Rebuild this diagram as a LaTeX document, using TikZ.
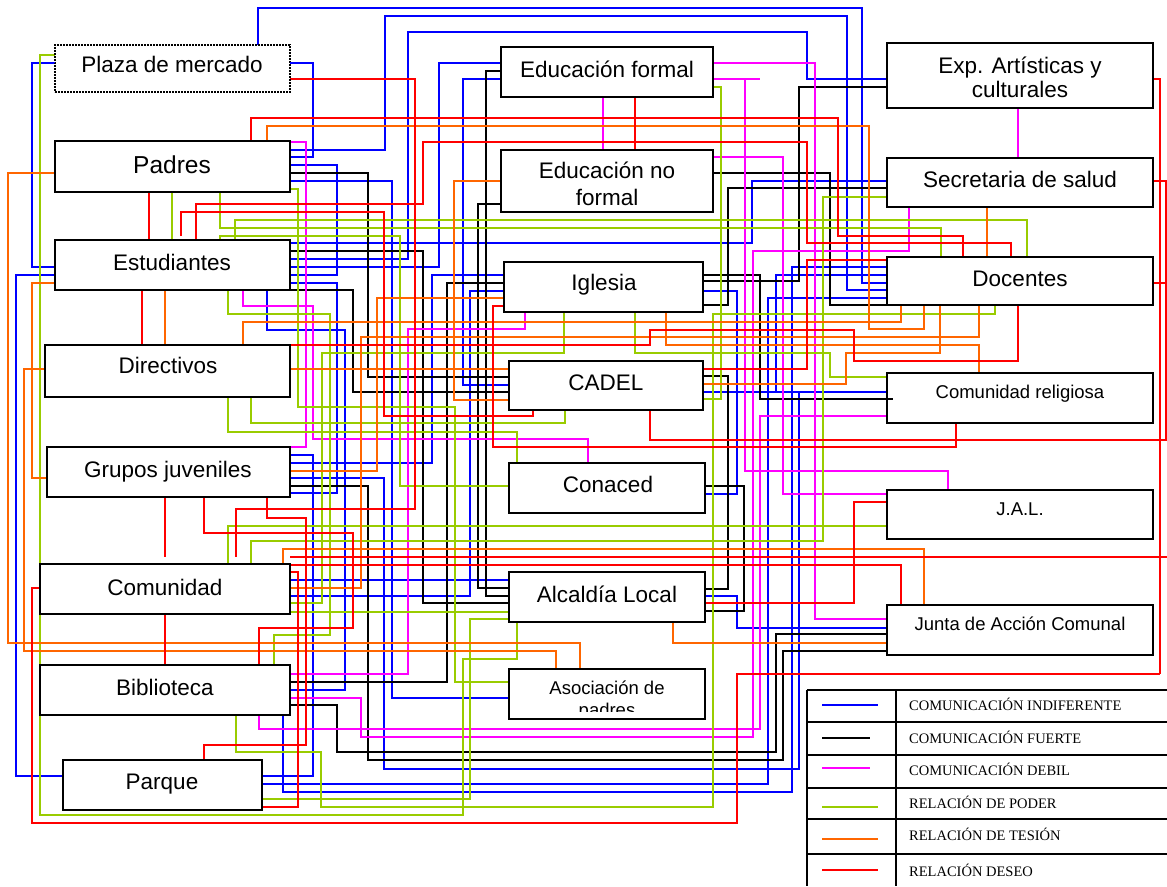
\documentclass[tikz,border=0pt]{standalone}
\usepackage{fontspec}
\setmainfont{Liberation Sans}
\newfontfamily\legfont{Liberation Serif}
\definecolor{wb}{RGB}{0,0,255}
\definecolor{wk}{RGB}{0,0,0}
\definecolor{wm}{RGB}{255,0,255}
\definecolor{wg}{RGB}{153,204,0}
\definecolor{wo}{RGB}{255,102,0}
\definecolor{wr}{RGB}{255,0,0}
\tikzset{
  box/.style={draw, line width=1.6pt, inner sep=0pt, outer sep=0pt},
  plazabox/.style={line width=1.3pt, dash pattern=on 1.3pt off 1.7pt},
  lbl/.style={anchor=base, inner sep=0pt, font=\fontsize{22.5}{27}\selectfont},
  slbl/.style={anchor=base, inner sep=0pt, font=\fontsize{18.5}{22}\selectfont},
  leg/.style={anchor=base west, inner sep=0pt, font=\legfont\fontsize{14.5}{17}\selectfont},
  wire/.style={line width=1.4pt, line join=miter},
  lnb/.style={wire, draw=wb},
  lnk/.style={wire, draw=wk},
  lnm/.style={wire, draw=wm},
  lng/.style={wire, draw=wg},
  lno/.style={wire, draw=wo},
  lnr/.style={wire, draw=wr},
  tab/.style={line width=1.6pt, draw=black}
}
\newcommand\mkbox[6][]{%
  \node[box,#1,minimum width={(#5-#3)*1pt},minimum height={(#6-#4)*1pt}] (#2) at ({(#3+#5)/2},{(#4+#6)/2}) {};}
\begin{document}
\begin{tikzpicture}[x=1pt,y=-1pt]
\useasboundingbox (0,0) rectangle (1167,886);
\fill[white] (0,0) rectangle (1167,886);

% ---------- boxes ----------
\mkbox[plazabox]{plaza}{55}{45}{290}{92}
\mkbox{padres}{55}{141}{290}{192}
\mkbox{estud}{55}{240}{290}{290}
\mkbox{direct}{45}{345}{290}{397}
\mkbox{grupos}{47}{447}{290}{497}
\mkbox{comun}{40}{564}{290}{614}
\mkbox{biblio}{40}{665}{290}{715}
\mkbox{parque}{63}{760}{262}{810}
\mkbox{edf}{501}{47}{713}{97}
\mkbox{ednf}{501}{150}{713}{212}
\mkbox{iglesia}{504}{262}{703}{312}
\mkbox{cadel}{509}{361}{703}{410}
\mkbox{conaced}{509}{463}{705}{513}
\mkbox{alcaldia}{509}{572}{705}{622}
\mkbox{asoc}{509}{669}{705}{719}
\mkbox{exp}{887}{43}{1153}{108}
\mkbox{secsal}{887}{158}{1153}{207}
\mkbox{docentes}{887}{257}{1153}{305}
\mkbox{comrel}{887}{373}{1153}{423}
\mkbox{jal}{887}{490}{1153}{539}
\mkbox{jac}{887}{605}{1153}{655}

% ---------- blue : comunicacion indiferente ----------
\draw[lnb] (plaza.north -| 258,0) -- (258,8) -- (862,8) -- (862,283) -- (docentes.west |- 0,283);
\draw[lnb] (padres.east |- 0,150) -- (385,150) -- (385,16) -- (847,16) -- (847,290) -- (docentes.west |- 0,290);
\draw[lnb] (plaza.east |- 0,63) -- (313,63) -- (313,157) -- (padres.east |- 0,157);
\draw[lnb] (padres.east |- 0,165) -- (337,165) -- (337,275) -- (estud.east |- 0,275);
\draw[lnb] (padres.east |- 0,181) -- (392,181) -- (392,698) -- (asoc.west |- 0,698);
\draw[lnb] (estud.east |- 0,243) -- (752,243) -- (752,181) -- (secsal.west |- 0,181);
\draw[lnb] (estud.east |- 0,259) -- (408,259) -- (408,32) -- (807,32) -- (807,79) -- (exp.west |- 0,79);
\draw[lnb] (estud.east |- 0,267) -- (439,267) -- (439,63) -- (edf.west |- 0,63);
\draw[lnb] (estud.east |- 0,283) -- (337,283) -- (337,493) -- (grupos.east |- 0,493);
\draw[lnb] (estud.south -| 267,0) -- (267,330) -- (345,330) -- (345,690) -- (biblio.east |- 0,690);
\draw[lnb] (grupos.east |- 0,455) -- (313,455) -- (313,776) -- (parque.east |- 0,776);
\draw[lnb] (grupos.east |- 0,463) -- (432,463) -- (432,275) -- (iglesia.west |- 0,275);
\draw[lnb] (grupos.east |- 0,478) -- (384,478) -- (384,769) -- (799,769) -- (799,392);
\draw[lnb] (comun.east |- 0,580) -- (alcaldia.west |- 0,580);
\draw[lnb] (comun.east |- 0,596) -- (470,596) -- (470,291) -- (iglesia.west |- 0,291);
\draw[lnb] (biblio.south -| 283,0) -- (283,792) -- (792,792) -- (792,267) -- (docentes.west |- 0,267);
\draw[lnb] (parque.east |- 0,784) -- (768,784) -- (768,298) -- (docentes.west |- 0,298);
\draw[lnb] (edf.west |- 0,79) -- (463,79) -- (463,385) -- (cadel.west |- 0,385);
\draw[lnb] (alcaldia.east |- 0,596) -- (737,596) -- (737,628) -- (jac.west |- 0,628);
\draw[lnb] (iglesia.east |- 0,291) -- (737,291) -- (737,494) -- (conaced.east |- 0,494);
\draw[lnb] (cadel.east |- 0,392) -- (comrel.west |- 0,392);
\draw[lnb] (estud.west |- 0,275) -- (16,275) -- (16,776) -- (parque.west |- 0,776);
\draw[lnb] (plaza.west |- 0,63) -- (32,63) -- (32,267) -- (estud.west |- 0,267);
\draw[lnb] (docentes.west |- 0,275) -- (776,275) -- (776,392);

% ---------- black : comunicacion fuerte ----------
\draw[lnk] (padres.east |- 0,173) -- (368,173) -- (368,377) -- (cadel.west |- 0,377);
\draw[lnk] (estud.east |- 0,251) -- (423,251) -- (423,603) -- (alcaldia.west |- 0,603);
\draw[lnk] (estud.east |- 0,290) -- (353,290) -- (353,392) -- (cadel.west |- 0,392);
\draw[lnk] (grupos.east |- 0,486) -- (368,486) -- (368,760) -- (783,760) -- (783,651) -- (jac.west |- 0,651);
\draw[lnk] (biblio.east |- 0,682) -- (447,682) -- (447,283) -- (iglesia.west |- 0,283);
\draw[lnk] (biblio.east |- 0,705) -- (337,705) -- (337,752) -- (776,752) -- (776,634) -- (jac.west |- 0,634);
\draw[lnk] (edf.west |- 0,71) -- (486,71) -- (486,596) -- (alcaldia.west |- 0,596);
\draw[lnk] (ednf.west |- 0,204) -- (478,204) -- (478,588) -- (alcaldia.west |- 0,588);
\draw[lnk] (ednf.east |- 0,173) -- (830,173) -- (830,305) -- (docentes.west |- 0,305);
\draw[lnk] (iglesia.east |- 0,305) -- (728,305) -- (728,188) -- (secsal.west |- 0,188);
\draw[lnk] (exp.west |- 0,87) -- (799,87) -- (799,281) -- (iglesia.east |- 0,281);
\draw[lnk] (iglesia.east |- 0,275) -- (760,275) -- (760,399) -- (893,399);
\draw[lnk] (cadel.east |- 0,376) -- (728,376) -- (728,589) -- (alcaldia.east |- 0,589);
\draw[lnk] (conaced.east |- 0,486) -- (744,486) -- (744,611) -- (alcaldia.east |- 0,611);

% ---------- magenta : comunicacion debil ----------
\draw[lnm] (padres.east |- 0,142) -- (306,142) -- (306,447) -- (grupos.east |- 0,447);
\draw[lnm] (estud.south -| 243,0) -- (243,306) -- (313,306) -- (313,439) -- (588,439) -- (conaced.north -| 588,0);
\draw[lnm] (biblio.east |- 0,674) -- (408,674) -- (408,329) -- (525,329) -- (iglesia.south -| 525,0);
\draw[lnm] (biblio.east |- 0,698) -- (361,698) -- (361,737) -- (753,737) -- (753,251) -- (909,251) -- (secsal.south -| 909,0);
\draw[lnm] (biblio.south -| 259,0) -- (259,729) -- (760,729) -- (760,416) -- (comrel.west |- 0,416);
\draw[lnm] (edf.east |- 0,63) -- (815,63) -- (815,619) -- (jac.west |- 0,619);
\draw[lnm] (edf.east |- 0,79) -- (760,79);
\draw[lnm] (745,79) -- (745,471) -- (948,471) -- (jal.north -| 948,0);
\draw[lnm] (edf.south -| 603,0) -- (ednf.north -| 603,0);
\draw[lnm] (ednf.east |- 0,157) -- (783,157) -- (783,494) -- (jal.west |- 0,494);
\draw[lnm] (exp.south -| 1018,0) -- (secsal.north -| 1018,0);

% ---------- green : relacion de poder ----------
\draw[lng] (padres.east |- 0,189) -- (298,189) -- (298,407) -- (455,407) -- (455,682) -- (asoc.west |- 0,682);
\draw[lng] (padres.south -| 220,0) -- (220,228) -- (941,228) -- (docentes.north -| 941,0);
\draw[lng] (estud.north -| 235,0) -- (235,220) -- (1027,220) -- (docentes.north -| 1027,0);
\draw[lng] (estud.north -| 220,0) -- (220,236) -- (400,236) -- (400,486) -- (conaced.west |- 0,486);
\draw[lng] (estud.south -| 228,0) -- (228,314) -- (330,314) -- (330,635) -- (274,635) -- (biblio.north -| 274,0);
\draw[lng] (direct.south -| 251,0) -- (251,423) -- (565,423) -- (cadel.south -| 565,0);
\draw[lng] (direct.south -| 228,0) -- (228,432) -- (517,432) -- (conaced.north -| 517,0);
\draw[lng] (comun.north -| 228,0) -- (228,526) -- (jal.west |- 0,526);
\draw[lng] (comun.north -| 251,0) -- (251,541) -- (823,541) -- (823,197) -- (secsal.west |- 0,197);
\draw[lng] (comun.east |- 0,603) -- (322,603) -- (322,353) -- (564,353) -- (iglesia.south -| 564,0);
\draw[lng] (comun.east |- 0,612) -- (alcaldia.west |- 0,612);
\draw[lng] (biblio.south -| 236,0) -- (236,752) -- (321,752) -- (321,807) -- (713,807) -- (713,314) -- (995,314) -- (docentes.south -| 995,0);
\draw[lng] (iglesia.south -| 635,0) -- (635,353) -- (830,353) -- (830,377) -- (comrel.west |- 0,377);
\draw[lng] (parque.east |- 0,799) -- (470,799) -- (470,619) -- (alcaldia.west |- 0,619);
\draw[lng] (plaza.west |- 0,55) -- (40,55) -- (40,815) -- (463,815) -- (463,659) -- (517,659) -- (alcaldia.south -| 517,0);
\draw[lng] (edf.east |- 0,87) -- (721,87) -- (721,399) -- (cadel.east |- 0,399);
\draw[lng] (padres.south -| 172,0) -- (estud.north -| 172,0);

% ---------- orange : relacion de tesion ----------
\draw[lno] (padres.north -| 267,0) -- (267,126) -- (869,126) -- (869,329) -- (924,329) -- (docentes.south -| 924,0);
\draw[lno] (estud.south -| 165,0) -- (direct.north -| 165,0);
\draw[lno] (direct.north -| 243,0) -- (243,322) -- (901,322) -- (docentes.south -| 901,0);
\draw[lno] (direct.east |- 0,369) -- (cadel.west |- 0,369);
\draw[lno] (direct.west |- 0,369) -- (24,369) -- (24,651) -- (556,651) -- (asoc.north -| 556,0);
\draw[lno] (estud.west |- 0,283) -- (32,283) -- (32,478) -- (grupos.west |- 0,478);
\draw[lno] (grupos.east |- 0,471) -- (377,471) -- (377,298) -- (iglesia.west |- 0,298);
\draw[lno] (comun.north -| 283,0) -- (283,549) -- (924,549) -- (jac.north -| 924,0);
\draw[lno] (comun.east |- 0,588) -- (361,588) -- (361,337) -- (979,337) -- (docentes.south -| 979,0);
\draw[lno] (ednf.west |- 0,181) -- (454,181) -- (454,400) -- (cadel.west |- 0,400);
\draw[lno] (secsal.south -| 987,0) -- (docentes.north -| 987,0);
\draw[lno] (iglesia.south -| 666,0) -- (666,345) -- (979,345) -- (comrel.north -| 979,0);
\draw[lno] (cadel.east |- 0,384) -- (846,384) -- (846,353) -- (940,353) -- (docentes.south -| 940,0);
\draw[lno] (alcaldia.south -| 673,0) -- (673,643) -- (jac.west |- 0,643);
\draw[lno] (padres.west |- 0,173) -- (8,173) -- (8,643) -- (580,643) -- (asoc.north -| 580,0);

% ---------- red : relacion deseo ----------
\draw[lnr] (plaza.east |- 0,79) -- (415,79) -- (415,509) -- (236,509) -- (236,557);
\draw[lnr] (padres.north -| 251,0) -- (251,118) -- (838,118) -- (838,236) -- (963,236) -- (docentes.north -| 963,0);
\draw[lnr] (estud.north -| 196,0) -- (196,204) -- (423,204) -- (423,142) -- (807,142) -- (807,243) -- (1011,243) -- (docentes.north -| 1011,0);
\draw[lnr] (181,236) -- (181,212) -- (384,212) -- (384,416) -- (533,416) -- (cadel.south -| 533,0);
\draw[lnr] (estud.south -| 142,0) -- (direct.north -| 142,0);
\draw[lnr] (direct.east |- 0,345) -- (650,345) -- (650,330) -- (854,330) -- (854,361) -- (1018,361) -- (docentes.south -| 1018,0);
\draw[lnr] (grupos.south -| 165,0) -- (165,557);
\draw[lnr] (grupos.south -| 204,0) -- (204,533) -- (353,533) -- (353,628) -- (259,628) -- (biblio.north -| 259,0);
\draw[lnr] (grupos.south -| 267,0) -- (267,518) -- (306,518) -- (306,745) -- (204,745) -- (parque.north -| 204,0);
\draw[lnr] (290,557) -- (1167,557);
\draw[lnr] (comun.east |- 0,565) -- (901,565) -- (jac.north -| 901,0);
\draw[lnr] (comun.east |- 0,572) -- (298,572) -- (298,807) -- (parque.east |- 0,807);
\draw[lnr] (comun.south -| 165,0) -- (biblio.north -| 165,0);
\draw[lnr] (edf.south -| 635,0) -- (ednf.north -| 635,0);
\draw[lnr] (cadel.east |- 0,369) -- (807,369) -- (807,260) -- (docentes.west |- 0,260);
\draw[lnr] (cadel.south -| 650,0) -- (650,440) -- (1167,440);
\draw[lnr] (iglesia.west |- 0,306) -- (493,306) -- (493,447) -- (956,447) -- (comrel.south -| 956,0);
\draw[lnr] (alcaldia.east |- 0,603) -- (854,603) -- (854,502) -- (jal.west |- 0,502);
\draw[lnr] (comun.west |- 0,588) -- (32,588) -- (32,823) -- (737,823) -- (737,674) -- (1160,674);
\draw[lnr] (padres.south -| 149,0) -- (estud.north -| 149,0);
\draw[lnr] (exp.east |- 0,79) -- (1160,79) -- (1160,674);
\draw[lnr] (secsal.east |- 0,181) -- (1166,181) -- (1166,440);
\draw[lnr] (docentes.east |- 0,283) -- (1167,283);

% ---------- redraw box borders on top ----------
\foreach \n in {padres,estud,direct,grupos,comun,biblio,parque,edf,ednf,iglesia,cadel,conaced,alcaldia,asoc,exp,secsal,docentes,comrel,jal,jac}
  \draw[line width=1.6pt] (\n.north west) rectangle (\n.south east);
\draw[line width=1.3pt, dash pattern=on 1.3pt off 1.7pt] (plaza.north west) rectangle (plaza.south east);

% ---------- labels ----------
\node[lbl] (t-plaza) at (172,72) {Plaza de mercado};
\node[lbl, font=\fontsize{24.5}{28}\selectfont] (t-padres) at (172,173) {Padres};
\node[lbl] (t-estud) at (172,270) {Estudiantes};
\node[lbl] (t-direct) at (168,373) {Directivos};
\node[lbl] (t-grupos) at (168,477) {Grupos juveniles};
\node[lbl] (t-comun) at (165,595) {Comunidad};
\node[lbl] (t-biblio) at (165,695) {Biblioteca};
\node[lbl] (t-parque) at (162,789) {Parque};
\node[lbl] (t-edf) at (607,77) {Educación formal};
\node[lbl] (t-ednf1) at (607,178) {Educación no};
\node[lbl] (t-ednf2) at (607,205) {formal};
\node[lbl] (t-iglesia) at (604,290) {Iglesia};
\node[lbl] (t-cadel) at (606,390) {CADEL};
\node[lbl] (t-conaced) at (608,492) {Conaced};
\node[lbl] (t-alcaldia) at (607,602) {Alcaldía Local};
\node[slbl] (t-asoc1) at (607,694) {Asociación de};
\begin{scope}
  \clip (509,698) rectangle (705,711);
  \node[slbl] (t-asoc2) at (607,716) {padres};
\end{scope}
\node[lbl] (t-exp1) at (1020,73) {Exp. Artísticas y};
\node[lbl] (t-exp2) at (1020,97) {culturales};
\node[lbl] (t-secsal) at (1020,187) {Secretaria de salud};
\node[lbl] (t-docentes) at (1020,286) {Docentes};
\node[slbl] (t-comrel) at (1020,398) {Comunidad religiosa};
\node[slbl] (t-jal) at (1020,515) {J.A.L.};
\node[slbl] (t-jac) at (1020,630) {Junta de Acción Comunal};

% ---------- legend ----------
\foreach \yy in {690,722,755,788,819,854}
  \draw[tab] (807,\yy) -- (1167,\yy);
\draw[tab] (807,690) -- (807,886);
\draw[tab] (896,690) -- (896,886);
\draw[lnb] (822,705) -- (878,705);
\draw[lnk] (822,738) -- (870,738);
\draw[lnm] (822,768) -- (870,768);
\draw[lng] (822,807) -- (878,807);
\draw[lno] (822,839) -- (878,839);
\draw[lnr] (822,870) -- (878,870);
\node[leg] (l1) at (909,710) {COMUNICACIÓN INDIFERENTE};
\node[leg] (l2) at (909,743) {COMUNICACIÓN FUERTE};
\node[leg] (l3) at (909,775) {COMUNICACIÓN DEBIL};
\node[leg] (l4) at (909,808) {RELACIÓN DE PODER};
\node[leg] (l5) at (909,840) {RELACIÓN DE TESIÓN};
\node[leg] (l6) at (909,876) {RELACIÓN DESEO};
\end{tikzpicture}
\end{document}
